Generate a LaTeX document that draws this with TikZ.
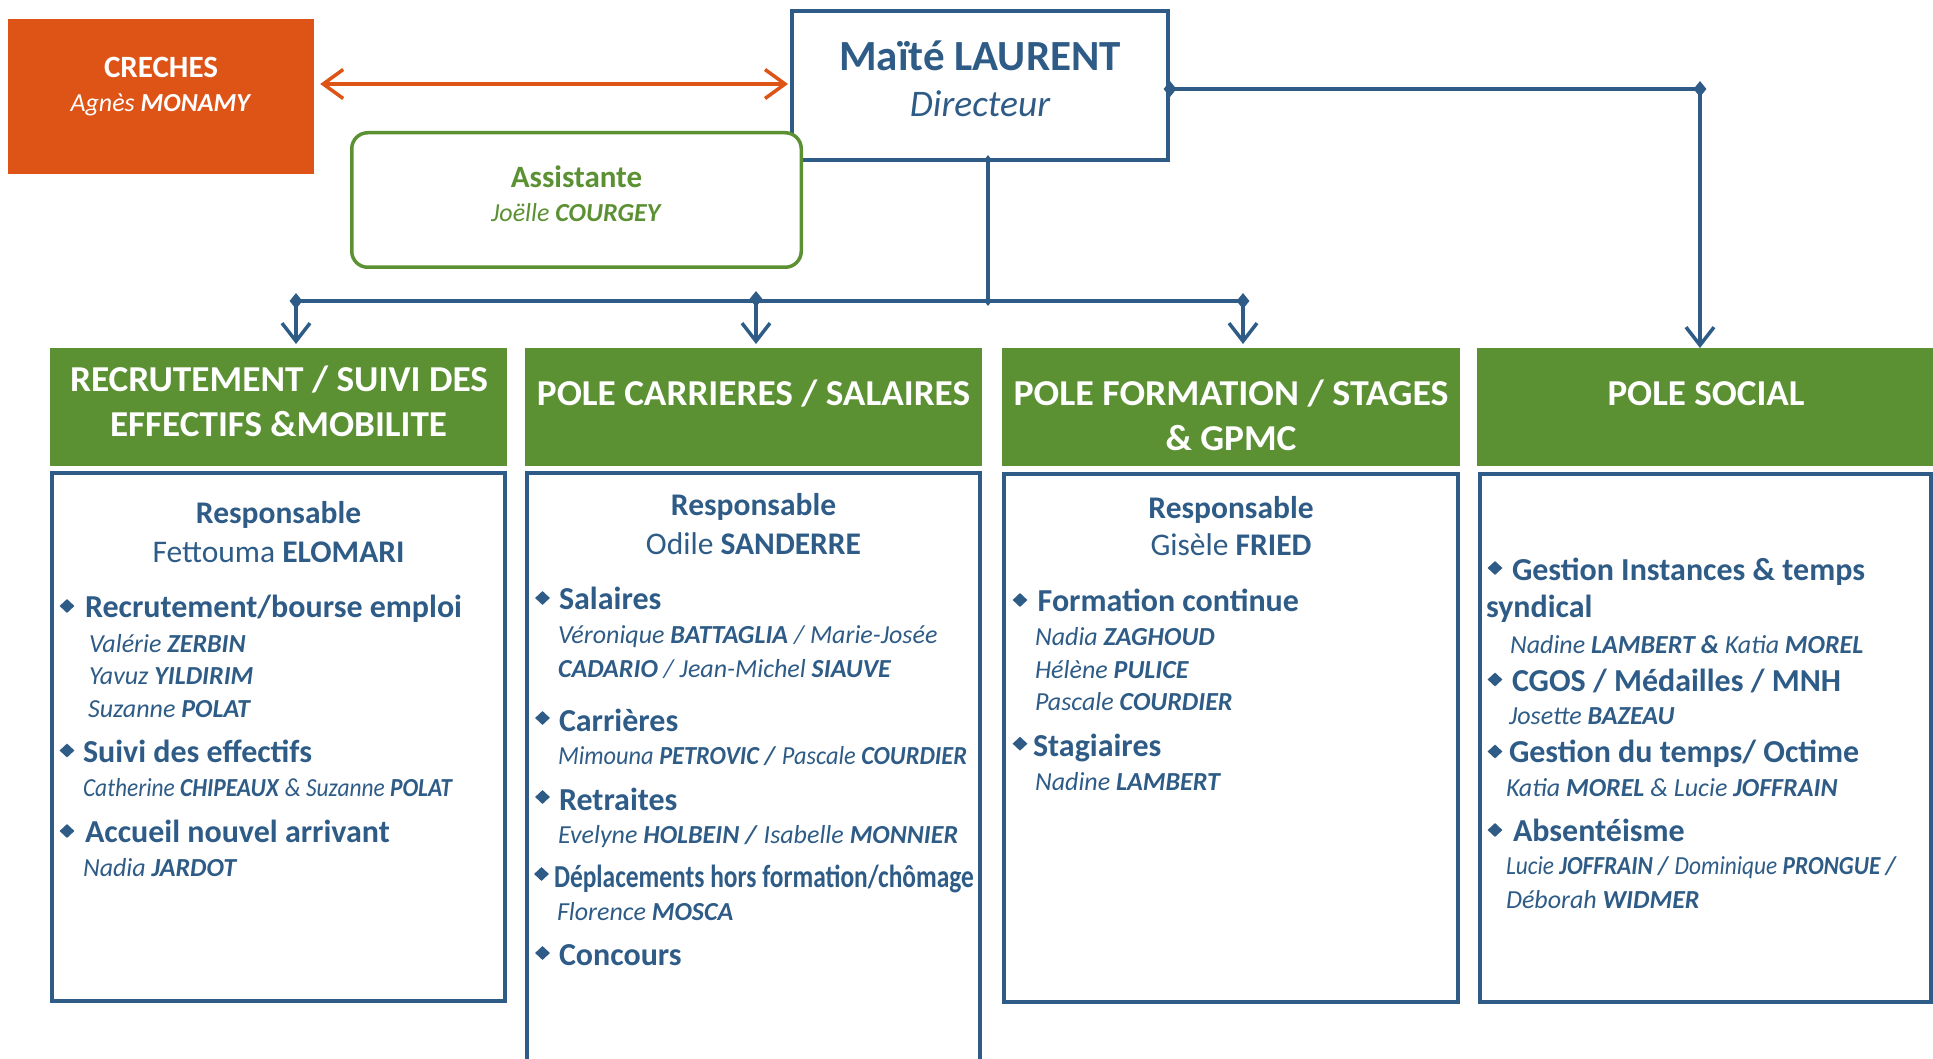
\documentclass[tikz,border=0pt]{standalone}
\usepackage{fontspec}
\usepackage{graphicx}
\setmainfont{Carlito}
\usetikzlibrary{arrows.meta,shapes.geometric,calc}
\definecolor{cblue}{HTML}{2E5C87}
\definecolor{cgreen}{HTML}{5B9133}
\definecolor{corange}{HTML}{DE5316}
\newcommand{\fsz}[1]{\fontsize{#1}{#1}\selectfont}
\newcommand{\nm}[2]{\textit{#1 \textbf{#2}}}
\newcommand{\hsq}[2]{\resizebox{#1}{\height}{#2}}
\tikzset{
  hd/.style={anchor=base west, inner sep=0pt, outer sep=0pt, text=cblue, font=\fsz{32}\bfseries},
  nl/.style={anchor=base west, inner sep=0pt, outer sep=0pt, text=cblue, font=\fsz{26}},
  rsp/.style={anchor=base, inner sep=0pt, outer sep=0pt, text=cblue, font=\fsz{31.5}},
  ht/.style={anchor=base, inner sep=0pt, outer sep=0pt, text=white, font=\fsz{36.5}\bfseries},
  blt/.style={shape=diamond, fill=cblue, inner sep=0pt, minimum width=15pt, minimum height=14pt},
  jd/.style={shape=diamond, fill=cblue, inner sep=0pt, minimum width=13pt, minimum height=16pt},
  jds/.style={shape=diamond, fill=cblue, inner sep=0pt, minimum width=8pt, minimum height=10pt},
  hdr/.style={fill=cgreen, inner sep=0pt, outer sep=0pt, minimum height=118pt},
  cbox/.style={draw=cblue, line width=4pt, inner sep=0pt, outer sep=0pt},
  con/.style={draw=cblue, line width=3.5pt},
  darr/.style={con, -{Straight Barb[length=18pt,width=28pt]}},
}
\begin{document}
\begin{tikzpicture}[x=1pt,y=-1pt]
\fill[white] (0,0) rectangle (1933,1059);
\useasboundingbox (0,0) rectangle (1933,1059);

% ---- top boxes
\node[fill=corange, inner sep=0pt, minimum width=306pt, minimum height=155pt] (crech) at (161,96.5) {};
\node[anchor=base, inner sep=0pt, text=white, font=\fsz{31}\bfseries] (crecht) at (161,78) {CRECHES};
\node[anchor=base, inner sep=0pt, text=white, font=\fsz{26}] (crechn) at (161,111.7) {\nm{Agnès}{MONAMY}};

\node[draw=cblue, line width=4pt, fill=white, inner sep=0pt, minimum width=376pt, minimum height=149pt] (dir) at (980,85.5) {};
\node[anchor=base, inner sep=0pt, text=cblue, font=\fsz{43}\bfseries] (dirn) at (980,71) {Maïté LAURENT};
\node[anchor=base, inner sep=0pt, text=cblue, font=\fsz{37.5}\itshape] (dirt) at (980,117) {Directeur};

\node[draw=cgreen, line width=3.5pt, fill=white, rounded corners=16pt, inner sep=0pt, minimum width=449.5pt, minimum height=134.5pt] (asst) at (576.5,200) {};
\node[anchor=base, inner sep=0pt, text=cgreen, font=\fsz{31}\bfseries] (asstt) at (576.5,188) {Assistante};
\node[anchor=base, inner sep=0pt, text=cgreen, font=\fsz{26}] (asstn) at (576.5,222) {\nm{Joëlle}{COURGEY}};

% ---- headers
\node[hdr, minimum width=457pt] (h1) at (278.5,407) {};
\node[hdr, minimum width=457pt] (h2) at (753.5,407) {};
\node[hdr, minimum width=458pt] (h3) at (1231,407) {};
\node[hdr, minimum width=456pt] (h4) at (1705,407) {};
\node[ht] (h1a) at (279,391) {\hsq{418pt}{RECRUTEMENT / SUIVI DES}};
\node[ht] (h1b) at (278.5,436) {\hsq{337pt}{EFFECTIFS \&MOBILITE}};
\node[ht] (h2a) at (753.5,405) {\hsq{433pt}{POLE CARRIERES / SALAIRES}};
\node[ht] (h3a) at (1231,405) {\hsq{435pt}{POLE FORMATION / STAGES}};
\node[ht] (h3b) at (1231,450) {\hsq{131pt}{\& GPMC}};
\node[ht] (h4a) at (1706,405) {\hsq{197pt}{POLE SOCIAL}};

% ---- content boxes
\node[cbox, minimum width=453pt, minimum height=528pt] (b1) at (278.5,737) {};
\draw[cblue, line width=4pt] (527,1059) -- (527,473) -- (980,473) -- (980,1059);
\node[cbox, minimum width=454pt, minimum height=528pt] (b3) at (1231,737.5) {};
\node[cbox, minimum width=451pt, minimum height=528pt] (b4) at (1705.5,737.5) {};

% ---- connectors
\draw[corange, line width=3.5pt, {Straight Barb[length=20pt,width=29pt]}-{Straight Barb[length=20pt,width=29pt]}]
  ([xshift=6pt,yshift=12.5pt]crech.east) -- ([xshift=-2pt,yshift=1.5pt]dir.west);

\coordinate (dbot) at (988,160);
\coordinate (busC) at (988,301);
\coordinate (busL) at (296,301);
\coordinate (busM) at (756,301);
\coordinate (busR) at (1243,301);
\coordinate (dR) at (1170,89);
\coordinate (rj) at (1700,89);
\draw[con] (dbot) -- (busC);
\draw[con] (busL) -- (busR);
\draw[darr, shorten >=4pt] (busL) -- (busL |- h1.north);
\draw[darr, shorten >=4pt] (busM) -- (busM |- h2.north);
\draw[darr, shorten >=4pt] (busR) -- (busR |- h3.north);
\draw[darr] (dR) -- (rj) -- (rj |- h4.north);
\node[jd] (dL) at (busL) {};
\node[jd] (dM) at ([yshift=2pt]busM) {};
\node[jd] (dRr) at (busR) {};
\node[jds] (dC1) at (dbot) {};
\node[jds] (dC2) at (busC) {};
\node[jd] (dE) at (dR) {};
\node[jd] (dRJ) at (rj) {};

% ---- box 1
\node[rsp, font=\fsz{31.5}\bfseries] (r1) at (278.5,523) {Responsable};
\node[rsp] (r1n) at (278.5,562) {Fettouma \textbf{ELOMARI}};
\node[blt] (p1a) at (67,606) {};
\node[hd] (t1a) at (85,617.5) {Recrutement/bourse emploi};
\node[nl] (n1a) at (89,652) {\nm{Valérie}{ZERBIN}};
\node[nl] (n1b) at (89,684) {\nm{Yavuz}{YILDIRIM}};
\node[nl] (n1c) at (88,717) {\nm{Suzanne}{POLAT}};
\node[blt] (p1b) at (67,750.5) {};
\node[hd] (t1b) at (83,762) {Suivi des effectifs};
\node[nl] (n1d) at (83,796) {\hsq{370pt}{\nm{Catherine}{CHIPEAUX} \textit{\& Suzanne \textbf{POLAT}}}};
\node[blt] (p1c) at (67,831) {};
\node[hd] (t1c) at (85,842) {Accueil nouvel arrivant};
\node[nl] (n1e) at (83,876) {\nm{Nadia}{JARDOT}};

% ---- box 2
\node[rsp, font=\fsz{31.5}\bfseries] (r2) at (753.5,515.7) {Responsable};
\node[rsp] (r2n) at (753.5,554) {Odile \textbf{SANDERRE}};
\node[blt] (p2a) at (542.5,598) {};
\node[hd] (t2a) at (559,609.7) {Salaires};
\node[nl] (n2a) at (558,643.7) {\nm{Véronique}{BATTAGLIA} \textit{/ Marie-Josée}};
\node[nl] (n2b) at (558,677) {\textit{\textbf{CADARIO} / Jean-Michel \textbf{SIAUVE}}};
\node[blt] (p2b) at (542.5,718) {};
\node[hd] (t2b) at (559,731) {Carrières};
\node[nl] (n2c) at (558,764) {\hsq{409pt}{\nm{Mimouna}{PETROVIC /} \nm{Pascale}{COURDIER}}};
\node[blt] (p2c) at (542.5,797) {};
\node[hd] (t2c) at (559,810) {Retraites};
\node[nl] (n2d) at (558,843.7) {\nm{Evelyne}{HOLBEIN /} \nm{Isabelle}{MONNIER}};
\node[blt] (p2d) at (541.5,874) {};
\node[hd] (t2d) at (554,887) {\hsq{420pt}{Déplacements hors formation/chômage}};
\node[nl] (n2e) at (557,920) {\nm{Florence}{MOSCA}};
\node[blt] (p2e) at (542.5,953) {};
\node[hd] (t2e) at (559,965) {Concours};

% ---- box 3
\node[rsp, font=\fsz{31.5}\bfseries] (r3) at (1231,518) {Responsable};
\node[rsp] (r3n) at (1231,555.6) {Gisèle \textbf{FRIED}};
\node[blt] (p3a) at (1020,600) {};
\node[hd] (t3a) at (1037.7,611.6) {Formation continue};
\node[nl] (n3a) at (1035,645) {\nm{Nadia}{ZAGHOUD}};
\node[nl] (n3b) at (1035,678.5) {\nm{Hélène}{PULICE}};
\node[nl] (n3c) at (1035,710.6) {\nm{Pascale}{COURDIER}};
\node[blt] (p3b) at (1020,743.7) {};
\node[hd] (t3b) at (1033,756.5) {Stagiaires};
\node[nl] (n3d) at (1035,790.5) {\nm{Nadine}{LAMBERT}};

% ---- box 4
\node[blt] (p4a) at (1495,568) {};
\node[hd] (t4a) at (1512,580) {Gestion Instances \& temps};
\node[hd] (t4b) at (1486,617.5) {syndical};
\node[nl] (n4a) at (1510,653) {\nm{Nadine}{LAMBERT \&} \nm{Katia}{MOREL}};
\node[blt] (p4b) at (1495,679.5) {};
\node[hd] (t4c) at (1512,691) {CGOS / Médailles / MNH};
\node[nl] (n4b) at (1509,724.4) {\nm{Josette}{BAZEAU}};
\node[blt] (p4c) at (1495,751.5) {};
\node[hd] (t4d) at (1509,762) {Gestion du temps/ Octime};
\node[nl] (n4c) at (1506,796.4) {\nm{Katia}{MOREL} \textit{\& Lucie \textbf{JOFFRAIN}}};
\node[blt] (p4d) at (1495,830) {};
\node[hd] (t4e) at (1513,841) {Absentéisme};
\node[nl] (n4d) at (1506,874.4) {\hsq{391pt}{\nm{Lucie}{JOFFRAIN /} \nm{Dominique}{PRONGUE /}}};
\node[nl] (n4e) at (1506,908.8) {\nm{Déborah}{WIDMER}};
\end{tikzpicture}
\end{document}
